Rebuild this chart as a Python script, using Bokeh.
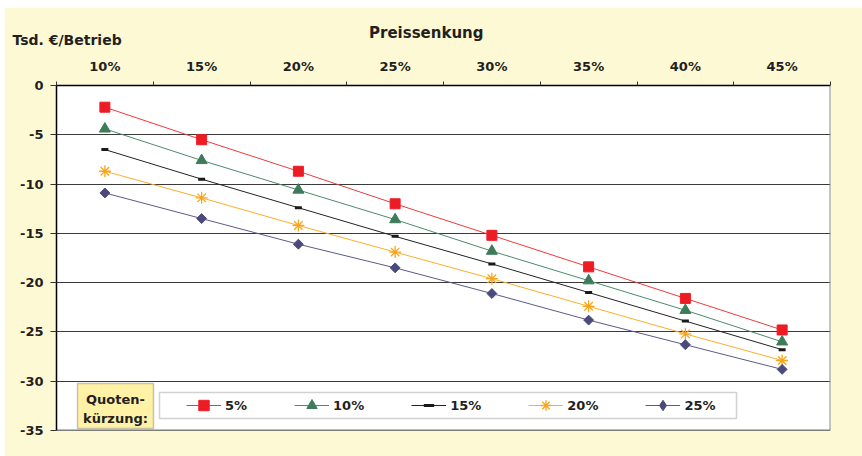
from math import pi, nan

from bokeh.plotting import figure
from bokeh.models import (Range1d, FixedTicker, Legend, LegendItem,
                          BoxAnnotation, Label, Span, Title)
from bokeh.embed import file_html
from bokeh.resources import INLINE

# ---- data: loss per farm (thousand EUR) by price cut, one series per quota cut
price_cuts = ["10%", "15%", "20%", "25%", "30%", "35%", "40%", "45%"]
quota_cuts = ["5%", "10%", "15%", "20%", "25%"]

q05 = [-2.2, -5.5, -8.7, -12.0, -15.2, -18.4, -21.6, -24.8]
q10 = [-4.4, -7.6, -10.6, -13.6, -16.8, -19.8, -22.8, -26.0]
q15 = [-6.5, -9.5, -12.4, -15.3, -18.1, -21.0, -23.9, -26.8]
q20 = [-8.7, -11.4, -14.2, -16.9, -19.6, -22.4, -25.2, -27.9]
q25 = [-10.9, -13.5, -16.1, -18.5, -21.1, -23.8, -26.3, -28.8]

y_ticks = [0, -5, -10, -15, -20, -25, -30, -35]

# ---- styling
CREAM = "#FEF9D5"
TEXT = "#231F20"
FONT = "DejaVu Sans"

# x: each category occupies one unit, points at the category centres
centres = [i + 0.5 for i in range(len(price_cuts))]
bounds = list(range(len(price_cuts) + 1))

W, H = 858, 449
FL, FR, FT, FB = 52, 32, 78, 26           # frame borders inside the figure
frame_w = W - FL - FR
frame_h = H - FT - FB
y_lo, y_hi = -35, 0
n_cat = len(price_cuts)


def fx(px):
    """horizontal offset (px from frame left) -> data x"""
    return px / frame_w * n_cat


def fy(py):
    """vertical offset (px from frame top) -> data y"""
    return y_hi - py / frame_h * (y_hi - y_lo)


p = figure(width=W, height=H, margin=(7, 0, 0, 4),
           x_range=Range1d(0, n_cat), y_range=Range1d(y_lo, y_hi),
           x_axis_location="above",
           output_backend="svg", toolbar_location=None,
           min_border_left=FL, min_border_right=FR,
           min_border_top=FT, min_border_bottom=FB,
           background_fill_color="white", border_fill_color=CREAM,
           outline_line_color=None)

# top category axis: labels at centres, short ticks between categories
xa = p.xaxis[0]
xa.ticker = FixedTicker(ticks=centres, minor_ticks=bounds)
xa.major_label_overrides = {c: lab for c, lab in zip(centres, price_cuts)}
xa.major_tick_out = 0
xa.major_tick_in = 0
xa.minor_tick_out = 4
xa.minor_tick_in = 0
xa.minor_tick_line_color = "#333333"
xa.axis_line_color = "black"
xa.axis_line_width = 1.5
xa.major_label_standoff = 8
xa.major_label_text_font = FONT
xa.major_label_text_font_style = "bold"
xa.major_label_text_font_size = "13px"
xa.major_label_text_color = TEXT

ya = p.yaxis[0]
ya.ticker = FixedTicker(ticks=y_ticks)
ya.major_label_overrides = {t: str(t) for t in y_ticks}   # plain hyphen-minus
ya.major_tick_out = 6
ya.major_tick_in = 0
ya.minor_tick_out = 0
ya.minor_tick_in = 0
ya.major_tick_line_color = "#333333"
ya.axis_line_color = "black"
ya.axis_line_width = 1.5
ya.major_label_standoff = 7
ya.major_label_text_font = FONT
ya.major_label_text_font_style = "bold"
ya.major_label_text_font_size = "13px"
ya.major_label_text_color = TEXT

# captions above the frame: unit (left) and axis name (over the categories);
# the negative standoff lets the axis name sit level with the unit caption
p.add_layout(Title(text="Tsd. €/Betrieb", align="left", offset=-44, standoff=15,
                   text_font=FONT, text_font_style="bold", text_font_size="14px",
                   text_color=TEXT), "above")
p.add_layout(Title(text="Preissenkung", align="right", offset=347, standoff=-38,
                   text_font=FONT, text_font_style="bold", text_font_size="15px",
                   text_color=TEXT), "above")

p.xgrid.visible = False
p.ygrid.ticker = FixedTicker(ticks=y_ticks)
p.ygrid.grid_line_color = "#3a3a3a"
p.ygrid.grid_line_width = 1

# frame edges: black bottom, grey right
p.add_layout(Span(location=y_lo, dimension="width", line_color="black", line_width=1.5))
p.add_layout(Span(location=n_cat, dimension="height", line_color="#8a8a8a", line_width=2))

# ---- series: (values, marker style, line colour, legend marker override)
series = [
    (q05, dict(marker="square", size=10, fill_color="#ED1C24", line_color="#ED1C24"), "#F03A3A", None),
    (q10, dict(marker="triangle", size=11, fill_color="#3E7B5B", line_color="#3E7B5B"), "#4E8A6B", None),
    (q15, dict(marker="dash", size=7, line_color="#1A1A1A", line_width=3), "#222222", None),
    (q20, dict(marker="asterisk", size=12, line_color="#F9A51C", line_width=1.3), "#FBAF2A", None),
    (q25, dict(marker="square", angle=pi / 4, size=7, fill_color="#4B4A7C", line_color="#4B4A7C"), "#5C5A8A",
     dict(marker="diamond", fill_color="#4B4A7C", line_color="#4B4A7C")),
]

items = []
for (vals, mk, lc, key), name in zip(series, quota_cuts):
    ln = p.line(centres, vals, line_color=lc, line_width=1)
    sc = p.scatter(centres, vals, **mk)
    if key is not None:
        # legend swatch drawn as an upright diamond (rotation is not kept in legends)
        sc_key = p.scatter([nan], [nan], **key)
        items.append(LegendItem(label=name, renderers=[ln, sc_key]))
    else:
        items.append(LegendItem(label=name, renderers=[ln, sc]))

# ---- legend: framed white strip plus a yellow caption box on its left
p.add_layout(BoxAnnotation(left=fx(103), right=fx(680), top=fy(307), bottom=fy(333),
                           fill_color="white", fill_alpha=1,
                           line_color="#6b6b6b", line_width=1.5, level="annotation"))
p.add_layout(BoxAnnotation(left=fx(21), right=fx(97), top=fy(298), bottom=fy(343),
                           fill_color="#FFF1A6", fill_alpha=1,
                           line_color="#4a4a4a", line_width=1.5, level="annotation"))
for txt, off in (("Quoten-", 314), ("kürzung:", 333)):
    p.add_layout(Label(x=fx(59), y=fy(off), text=txt, text_align="center",
                       text_baseline="alphabetic", text_font=FONT,
                       text_font_style="bold", text_font_size="13px",
                       text_color=TEXT))

legend = Legend(items=items, orientation="horizontal", location=(130, 12),
                spacing=47, glyph_width=35, glyph_height=26, label_standoff=4,
                padding=0, margin=0, background_fill_alpha=0,
                border_line_alpha=0, label_text_font=FONT,
                label_text_font_style="bold", label_text_font_size="13px",
                label_text_color=TEXT)
p.add_layout(legend, "center")

open("out.html", "w").write(file_html(p, INLINE))
